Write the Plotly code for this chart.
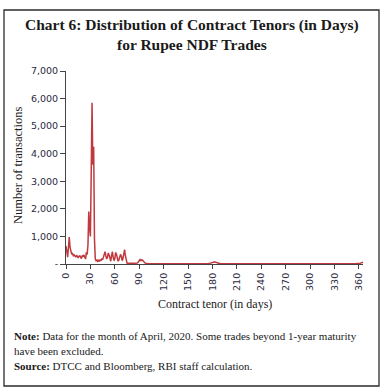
import plotly.graph_objects as go

# Number of transactions per contract tenor (days 0..365)
days_0_35 = [650, 350, 250, 600, 980, 600, 420, 350, 380, 300,
             330, 280, 250, 320, 260, 220, 280, 300, 240, 200,
             310, 260, 330, 280, 180, 420, 350, 700, 1900, 1300,
             1000, 3300, 5850, 3600, 4250, 900]
days_36_100 = [180, 120, 150, 100, 130, 90, 160, 120, 200, 150,
               250, 380, 450, 300, 180, 250, 400, 330, 150, 100,
               300, 450, 250, 120, 200, 420, 350, 180, 100, 150,
               250, 350, 280, 120, 200, 350, 520, 300, 60, 30,
               25, 20, 30, 20, 25, 30, 20, 15, 25, 20,
               30, 25, 40, 80, 130, 160, 120, 150, 140, 100,
               60, 40, 30, 20, 15]
days_101_365 = [15, 12, 10, 8, 12, 10, 6, 8, 10, 5, 8, 6, 10, 12, 8, 6, 5, 8, 10, 12,
                15, 20, 12, 10, 8, 15, 10, 8, 6, 10, 12, 8, 6, 5, 8, 10, 6, 5, 8, 6,
                10, 8, 5, 6, 8, 10, 12, 8, 6, 5, 6, 8, 10, 6, 5, 8, 6, 10, 8, 5,
                6, 8, 5, 6, 10, 8, 6, 5, 8, 10, 12, 8, 6, 10, 15, 20, 25, 30, 40, 50,
                60, 80, 70, 55, 40, 25, 15, 10, 8, 6, 8, 10, 6, 5, 8, 6, 5, 8, 10, 6,
                5, 6, 8, 5, 6, 8, 10, 6, 5, 8, 6, 5, 8, 10, 12, 8, 6, 5, 6, 8,
                10, 8, 6, 5, 8, 6, 5, 8, 10, 6, 5, 6, 8, 10, 12, 8, 6, 5, 8, 6,
                5, 8, 6, 10, 8, 5, 6, 8, 5, 6, 8, 10, 6, 5, 8, 6, 5, 6, 8, 10,
                12, 15, 10, 8, 6, 5, 8, 10, 15, 20, 25, 18, 12, 8, 6, 5, 8, 6, 5, 8,
                6, 5, 8, 10, 6, 5, 8, 6, 5, 6, 8, 10, 6, 5, 8, 6, 5, 8, 6, 5,
                6, 8, 10, 6, 5, 8, 6, 5, 8, 10, 6, 5, 8, 6, 5, 6, 8, 10, 6, 5,
                8, 6, 5, 8, 10, 6, 5, 8, 6, 5, 6, 8, 10, 12, 8, 6, 5, 8, 6, 5,
                6, 8, 5, 6, 10, 8, 6, 5, 8, 10, 12, 8, 6, 10, 15, 12, 20, 15, 25, 30,
                20, 30, 45, 60, 40]
counts = days_0_35 + days_36_100 + days_101_365
tenors = list(range(len(counts)))

x_ticks = list(range(0, 361, 30))
y_ticks = list(range(0, 7001, 1000))
y_ticktext = ["-" if v == 0 else f"{v:,}" for v in y_ticks]

title_lines = ["Chart 6: Distribution of Contract Tenors (in Days)", "for Rupee NDF Trades"]
x_title = "Contract tenor (in days)"
y_title = "Number of transactions"
note_lines = ["<b>Note:</b> Data for the month of April, 2020. Some trades beyond 1-year maturity",
              "have been excluded.",
              "<b>Source:</b> DTCC and Bloomberg, RBI staff calculation."]

W, H = 383, 388
L, R, T, B = 66, 363, 71, 264  # plot area in pixels


def px(x):
    return (x - L) / (R - L)


def py(y):
    return (B - y) / (B - T)


fig = go.Figure()
fig.add_trace(go.Scatter(x=tenors, y=counts, mode="lines",
                         line=dict(color="#c0393e", width=1.5), hoverinfo="skip"))

serif = "Liberation Serif"
sans = "DejaVu Sans"
txt = "#1a1a1a"

ann = []
ann.append(dict(text="<b>" + title_lines[0] + "</b>", x=px(192), y=py(25), xref="paper", yref="paper",
                showarrow=False, xanchor="center", yanchor="middle",
                font=dict(family=serif, size=15.5, color=txt)))
ann.append(dict(text="<b>" + title_lines[1] + "</b>", x=px(192), y=py(45), xref="paper", yref="paper",
                showarrow=False, xanchor="center", yanchor="middle",
                font=dict(family=serif, size=15.5, color=txt)))
ann.append(dict(text=x_title, x=px(215), y=py(304), xref="paper", yref="paper",
                showarrow=False, xanchor="center", yanchor="middle",
                font=dict(family=serif, size=12, color=txt)))
ann.append(dict(text=y_title, x=px(18), y=py(165), xref="paper", yref="paper",
                showarrow=False, xanchor="center", yanchor="middle", textangle=-90,
                font=dict(family=serif, size=12.5, color=txt)))
for i, (line, yy) in enumerate(zip(note_lines, [336, 351, 366])):
    ann.append(dict(text=line, x=px(12), y=py(yy), xref="paper", yref="paper",
                    showarrow=False, xanchor="left", yanchor="middle",
                    font=dict(family=serif, size=11, color=txt)))

fig.update_layout(
    width=W, height=H,
    margin=dict(l=L, r=W - R, t=T, b=H - B, pad=0),
    paper_bgcolor="white", plot_bgcolor="white",
    showlegend=False,
    annotations=ann,
    shapes=[dict(type="rect", xref="paper", yref="paper",
                 x0=px(4), x1=px(379), y0=py(386), y1=py(10),
                 line=dict(color="#2b2b2b", width=1.3), fillcolor="rgba(0,0,0,0)")],
)
fig.update_xaxes(range=[0, 365], tickvals=x_ticks, ticktext=[str(v) for v in x_ticks],
                 tickangle=-90, showgrid=False, zeroline=False,
                 showline=True, linecolor="#444", linewidth=1,
                 ticks="outside", ticklen=4, tickcolor="#444",
                 tickfont=dict(family=sans, size=9.5, color="#2a2a40"))
fig.update_yaxes(range=[0, 7000], tickvals=y_ticks, ticktext=y_ticktext,
                 showgrid=False, zeroline=False,
                 showline=True, linecolor="#444", linewidth=1,
                 ticks="outside", ticklen=5, tickcolor="#444",
                 tickfont=dict(family=sans, size=9.5, color="#2a2a40"))

fig.write_html("out.html", config=dict(displayModeBar=False),
               post_script="document.body.style.margin='0';document.body.style.overflow='hidden';")
